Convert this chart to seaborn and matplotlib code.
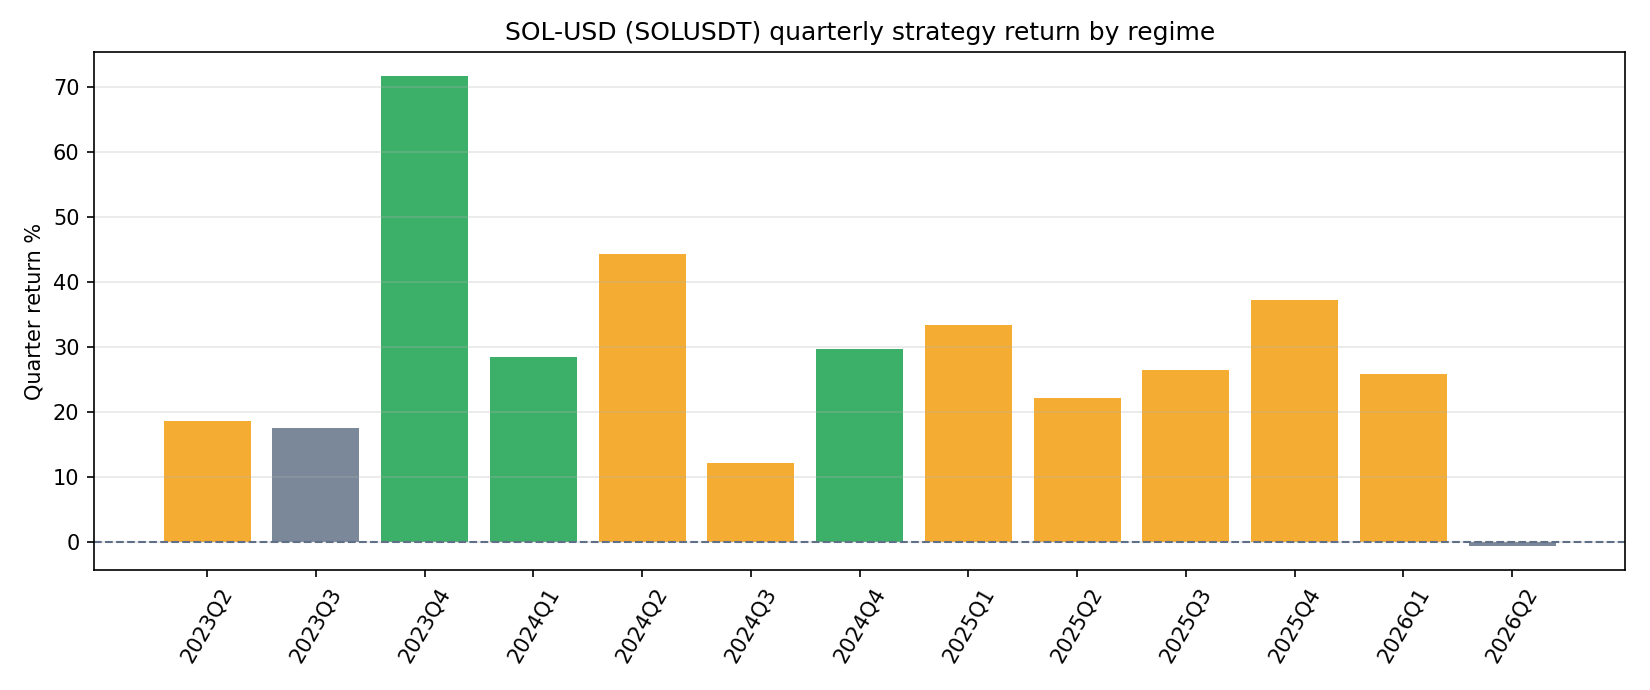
import numpy as np
import pandas as pd
import matplotlib
matplotlib.use("Agg")
import matplotlib.pyplot as plt
import seaborn as sns

# quarterly strategy return (%) and regime label per quarter
quarters = ["2023Q2", "2023Q3", "2023Q4", "2024Q1", "2024Q2", "2024Q3", "2024Q4",
            "2025Q1", "2025Q2", "2025Q3", "2025Q4", "2026Q1", "2026Q2"]
returns = [18.6, 17.5, 71.7, 28.5, 44.3, 12.15, 29.65, 33.4, 22.2, 26.4, 37.2, 25.8, -0.7]
regimes = ["trend", "neutral", "bull", "bull", "trend", "trend", "bull",
           "trend", "trend", "trend", "trend", "trend", "neutral"]

regime_colors = {"trend": "#F5AC32", "neutral": "#7A8899", "bull": "#3CB068"}

df = pd.DataFrame({"quarter": quarters, "ret": returns, "regime": regimes})

fig, ax = plt.subplots(figsize=(11, 4.6), dpi=150)
sns.barplot(data=df, x="quarter", y="ret", hue="regime", palette=regime_colors,
            dodge=False, width=0.8, saturation=1, legend=False, ax=ax)

ax.axhline(0, color="#5F6F88", linestyle="--", linewidth=1)
ax.grid(axis="y", alpha=0.3)
ax.set_axisbelow("line")

# same padding matplotlib's plain bar() would give
n = len(quarters)
pad = 0.05 * (n - 1 + 0.8)
ax.set_xlim(-0.4 - pad, n - 1 + 0.4 + pad)
lo, hi = min(returns), max(returns)
ax.set_ylim(lo - 0.05 * (hi - lo), hi + 0.05 * (hi - lo))

ax.set_title("SOL-USD (SOLUSDT) quarterly strategy return by regime")
ax.set_xlabel("")
ax.set_ylabel("Quarter return %")
plt.setp(ax.get_xticklabels(), rotation=60)

plt.subplots_adjust(left=0.057, right=0.985, top=0.924, bottom=0.174)
plt.savefig("out.png", dpi=150)
